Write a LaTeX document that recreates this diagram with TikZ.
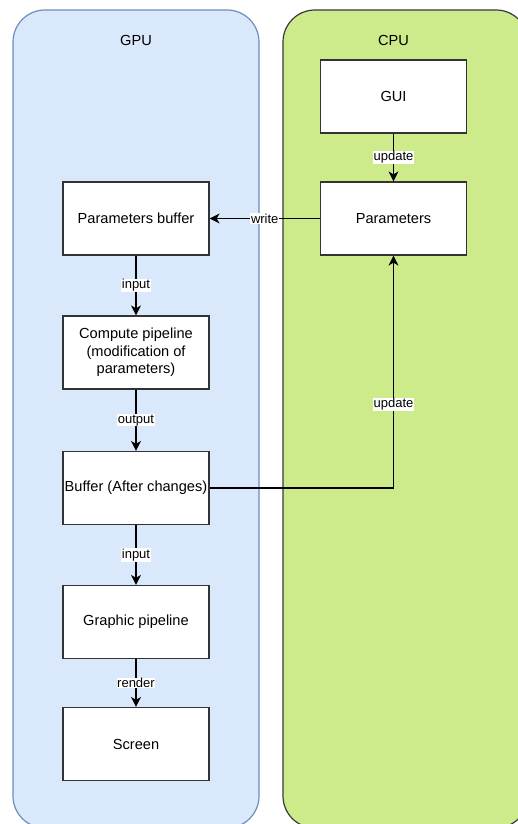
\documentclass[tikz,border=0pt]{standalone}
\usepackage{fontspec}
\setmainfont{Liberation Sans}
\usetikzlibrary{arrows.meta}
\definecolor{gpufill}{HTML}{DAE8FC}
\definecolor{gpuline}{HTML}{6C8EBF}
\definecolor{cpufill}{HTML}{CDEB8B}
\definecolor{cpuline}{HTML}{36393D}

\begin{document}
\begin{tikzpicture}[x=1pt,y=-1pt,line width=1.2pt,
  lane/.style={rounded corners=32pt},
  box/.style={draw=black!80,fill=white,minimum width=146pt,minimum height=73pt,
    align=center,inner sep=0pt,font=\fontsize{14.6}{17.5}\selectfont},
  lbl/.style={fill=white,inner sep=0.6pt,font=\fontsize{13}{15}\selectfont},
  arr/.style={draw=black,-{Stealth[length=10pt,width=10pt,inset=3pt]}}]
  \useasboundingbox (0,0) rectangle (518,824);
  \clip (0,0) rectangle (518,824);
  % lanes
  \draw[lane,fill=gpufill,draw=gpuline] (13,10) rectangle (259,828);
  \draw[lane,fill=cpufill,draw=cpuline] (283,10) rectangle (528,828);
  \node[font=\fontsize{14.6}{17}\selectfont] (gpu) at (136,40) {GPU};
  \node[font=\fontsize{14.6}{17}\selectfont] (cpu) at (393.5,40) {CPU};
  % cpu side
  \node[box] (gui) at (393.5,96.5) {GUI};
  \node[box] (params) at (393.5,218.5) {Parameters};
  % gpu side
  \node[box] (pbuf) at (136,218.5) {Parameters buffer};
  \node[box] (compute) at (136,352.5) {Compute pipeline\\(modification of\\parameters)};
  \node[box] (after) at (136,488) {Buffer (After changes)};
  \node[box] (graphic) at (136,622) {Graphic pipeline};
  \node[box] (screen) at (136,744) {Screen};
  % connectors
  \draw[arr] (gui) -- node[lbl]{update} (params);
  \draw[arr] (params) -- node[lbl]{write} (pbuf);
  \draw[arr] (pbuf) -- node[lbl]{input} (compute);
  \draw[arr] (compute) -- node[lbl]{output} (after);
  \draw[arr] (after) -- node[lbl]{input} (graphic);
  \draw[arr] (graphic) -- node[lbl]{render} (screen);
  \draw[arr] (after.east) -| node[lbl,pos=0.68]{update} (params.south);
\end{tikzpicture}
\end{document}
